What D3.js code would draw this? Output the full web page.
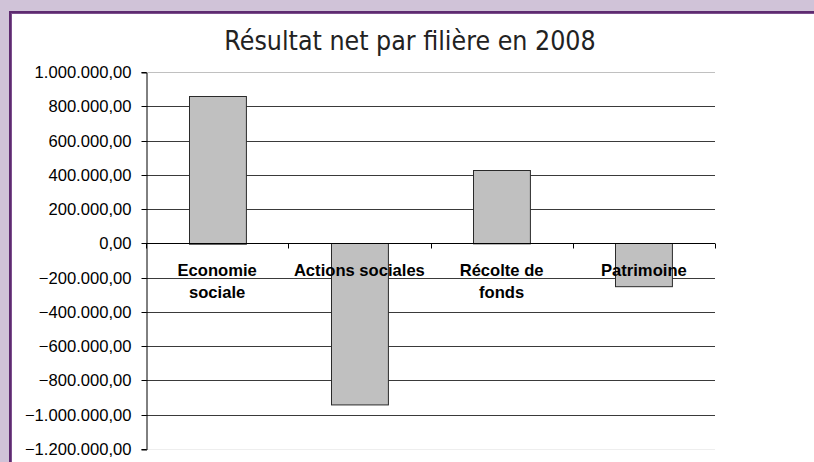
<!DOCTYPE html>
<html>
<head>
<meta charset="utf-8">
<script src="https://cdn.jsdelivr.net/npm/d3@7"></script>
<style>
    body { margin: 0; background: #d0c3d8; }
    svg { display: block; }
    .visTitle { font-family: "DejaVu Sans Condensed", "DejaVu Sans", sans-serif; font-size: 26.5px; fill: #222; }
    .y-axis text { font-family: "Liberation Sans", Arial, sans-serif; font-size: 16.6px; fill: #000; }
    .cat-label { font-family: "Liberation Sans", Arial, sans-serif; font-size: 16.6px; font-weight: bold; fill: #000; }
</style>
</head>
<body>
<div id="chart"></div>
<script>
// data
let categories = ["Economie sociale", "Actions sociales", "Récolte de fonds", "Patrimoine"];
let labelLines = [["Economie", "sociale"], ["Actions sociales"], ["Récolte de", "fonds"], ["Patrimoine"]];
let values = [862000, -942000, 428000, -252000];
let yTicks = [-1200000, -1000000, -800000, -600000, -400000, -200000, 0, 200000, 400000, 600000, 800000, 1000000];
let chartTitle = "Résultat net par filière en 2008";

class BarChart {

    constructor(parentElement) {
        this.parentElement = parentElement;
        this.initVis();
    }

    initVis() {
        let vis = this;

        vis.canvas = {width: 814, height: 462};
        vis.plot = {left: 146, right: 715, top: 72, bottom: 449};

        vis.svg = d3.select(vis.parentElement)
            .append("svg")
            .attr("width", vis.canvas.width)
            .attr("height", vis.canvas.height);

        // frame: lavender background, purple border, white panel
        vis.svg.append("rect")
            .attr("x", 0).attr("y", 0)
            .attr("width", vis.canvas.width).attr("height", vis.canvas.height)
            .attr("fill", "#d0c3d8");
        vis.svg.append("rect")
            .attr("x", 9).attr("y", 11)
            .attr("width", vis.canvas.width).attr("height", vis.canvas.height)
            .attr("fill", "#5e2b70");
        vis.svg.append("rect")
            .attr("x", 11).attr("y", 13)
            .attr("width", vis.canvas.width).attr("height", vis.canvas.height)
            .attr("fill", "#7d4f8e");
        vis.svg.append("rect")
            .attr("x", 12).attr("y", 14)
            .attr("width", vis.canvas.width).attr("height", vis.canvas.height)
            .attr("fill", "#fff");

        // title
        vis.svg.append("text")
            .attr("class", "visTitle")
            .attr("x", 410)
            .attr("y", 50)
            .attr("text-anchor", "middle")
            .text(chartTitle);

        // scales
        vis.xScale = d3.scaleBand()
            .domain(categories)
            .range([vis.plot.left, vis.plot.right])
            .paddingInner(0.6)
            .paddingOuter(0.3);
        vis.yScale = d3.scaleLinear()
            .domain([d3.min(yTicks), d3.max(yTicks)])
            .range([vis.plot.bottom, vis.plot.top]);

        let locale = d3.formatLocale({decimal: ",", thousands: ".", grouping: [3], currency: ["", " €"]});
        vis.fmt = locale.format(",.2f");

        vis.updateVis();
    }

    updateVis() {
        let vis = this;
        let crisp = v => Math.round(v) + 0.5;

        // gridlines
        vis.svg.append("g")
            .attr("class", "grid")
            .selectAll("line")
            .data(yTicks)
            .enter()
            .append("line")
            .attr("x1", vis.plot.left)
            .attr("x2", vis.plot.right)
            .attr("y1", d => crisp(vis.yScale(d)))
            .attr("y2", d => crisp(vis.yScale(d)))
            .attr("stroke", (d, i) => i === yTicks.length - 1 ? "#c0c0c0" : (i === 0 ? "#eeeeee" : "#3a3a3a"))
            .attr("stroke-width", 1);

        // bars
        vis.svg.append("g")
            .selectAll("rect.bar")
            .data(values)
            .enter()
            .append("rect")
            .attr("class", "bar")
            .attr("x", (d, i) => crisp(vis.xScale(categories[i])))
            .attr("y", d => crisp(vis.yScale(Math.max(0, d))))
            .attr("width", vis.xScale.bandwidth())
            .attr("height", d => Math.abs(vis.yScale(d) - vis.yScale(0)))
            .attr("fill", "#c0c0c0")
            .attr("stroke", "#2a2a2a")
            .attr("stroke-width", 1);

        // y axis
        vis.yAxis = d3.axisLeft(vis.yScale)
            .tickValues(yTicks)
            .tickSize(5)
            .tickPadding(10)
            .tickFormat(vis.fmt);
        let yG = vis.svg.append("g")
            .attr("class", "y-axis")
            .attr("transform", "translate(" + crisp(vis.plot.left) + ",0.5)")
            .call(vis.yAxis);
        yG.select(".domain").attr("stroke", "#000");
        yG.selectAll(".tick line").attr("stroke", "#000");
        yG.selectAll(".tick").attr("transform", d => "translate(0," + Math.round(vis.yScale(d)) + ")");

        // x axis at zero, tick marks on category boundaries
        let y0 = crisp(vis.yScale(0));
        let xG = vis.svg.append("g").attr("class", "x-axis");
        xG.append("line")
            .attr("x1", vis.plot.left)
            .attr("x2", vis.plot.right)
            .attr("y1", y0)
            .attr("y2", y0)
            .attr("stroke", "#000");
        xG.selectAll("line.xtick")
            .data(d3.range(categories.length + 1))
            .enter()
            .append("line")
            .attr("class", "xtick")
            .attr("x1", i => crisp(vis.plot.left + i * vis.xScale.step()))
            .attr("x2", i => crisp(vis.plot.left + i * vis.xScale.step()))
            .attr("y1", y0)
            .attr("y2", y0 + 5)
            .attr("stroke", "#000");

        // category labels, drawn on top of bars
        let labels = vis.svg.append("g")
            .selectAll("text.cat-label")
            .data(labelLines)
            .enter()
            .append("text")
            .attr("class", "cat-label")
            .attr("text-anchor", "middle")
            .attr("x", (d, i) => vis.xScale(categories[i]) + vis.xScale.bandwidth() / 2)
            .attr("y", 276);
        labels.selectAll("tspan")
            .data(d => d)
            .enter()
            .append("tspan")
            .attr("x", function () { return d3.select(this.parentNode).attr("x"); })
            .attr("dy", (d, i) => i === 0 ? 0 : 22)
            .text(d => d);
    }
}

let chart = new BarChart("#chart");
</script>
</body>
</html>
